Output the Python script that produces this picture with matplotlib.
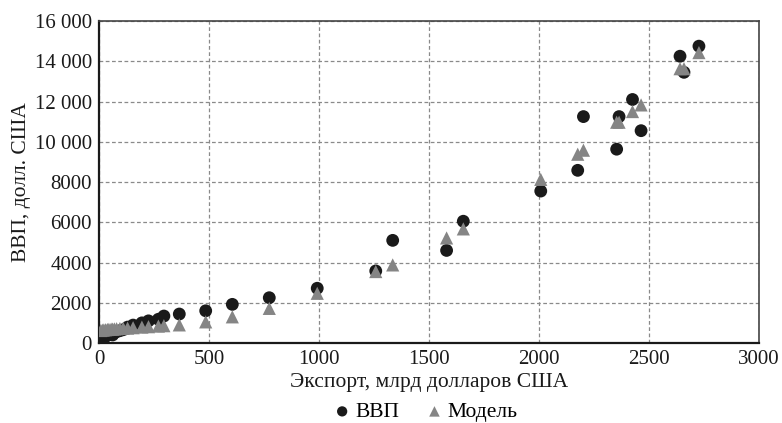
import matplotlib
matplotlib.use('Agg')
import matplotlib.pyplot as plt
from matplotlib.ticker import FixedLocator

plt.rcParams['font.family'] = ['Liberation Serif', 'DejaVu Serif']

# exports, bn USD; actual GDP and model GDP
export = [8, 15, 22, 30, 38, 45, 55, 62, 70, 80, 95, 110, 130, 155,
          195, 225, 270, 295, 365, 485, 606, 774, 992, 1258, 1335,
          1580, 1656, 2008, 2176, 2202, 2353, 2364, 2425, 2464, 2641,
          2659, 2727]
gdp = [200, 260, 300, 330, 380, 420, 470, 400, 520, 560, 610, 660, 790,
       890, 1000, 1100, 1180, 1340, 1440, 1600, 1920, 2250, 2720, 3580,
       5100, 4600, 6050, 7550, 8580, 11250, 9630, 11250, 12100, 10550,
       14250, 13450, 14750]
model = [620, 640, 650, 660, 670, 680, 690, 690, 700, 710, 720, 730,
         740, 760, 790, 810, 840, 860, 900, 1050, 1300, 1720, 2470, 3550,
         3880, 5220, 5670, 8130, 9380, 9580, 10970, 10970, 11500, 11830,
         13630, 13630, 14430]

yticks = [0, 2000, 4000, 6000, 8000, 10000, 12000, 14000, 16000]
ylabels = ['0', '2000', '4000', '6000', '8000',
           '10 000', '12 000', '14 000', '16 000']

fig = plt.figure(figsize=(7.82, 4.23), dpi=100)
ax = fig.add_axes([99 / 782, 1 - 343 / 423, 660 / 782, 322 / 423])

h1 = ax.scatter(export, gdp, s=85, marker='o', color='#1a1a1a',
                edgecolors='none', zorder=3, label='ВВП')
h2 = ax.scatter(export, model, s=90, marker='^', color='#858585',
                edgecolors='none', zorder=4, label='Модель')

ax.set_xlim(0, 3000)
ax.set_ylim(0, 16000)
ax.xaxis.set_major_locator(FixedLocator([0, 500, 1000, 1500, 2000, 2500, 3000]))
ax.set_yticks(yticks)
ax.set_yticklabels(ylabels)
ax.tick_params(length=0, labelsize=15, pad=5, colors='#1a1a1a')
ax.grid(True, linestyle=(0, (3, 2)), color='#8a8a8a', linewidth=0.9)
ax.set_axisbelow(True)
for side in ['left', 'bottom']:
    ax.spines[side].set_linewidth(1.6)
    ax.spines[side].set_color('#1a1a1a')
for side in ['top', 'right']:
    ax.spines[side].set_linewidth(1.2)
    ax.spines[side].set_color('#444444')

ax.set_xlabel('Экспорт, млрд долларов США', fontsize=15.5, labelpad=3,
              color='#1a1a1a')
ax.set_ylabel('ВВП, долл. США', fontsize=15.5, labelpad=3, color='#1a1a1a')

fig.legend(handles=[h1, h2], loc='center',
           bbox_to_anchor=(426 / 782, 1 - 412 / 423),
           ncol=2, frameon=False, fontsize=15.5, handlelength=0.7,
           handletextpad=0.25, columnspacing=1.3, markerscale=0.8,
           borderpad=0)

fig.savefig('out.png', dpi=100)
